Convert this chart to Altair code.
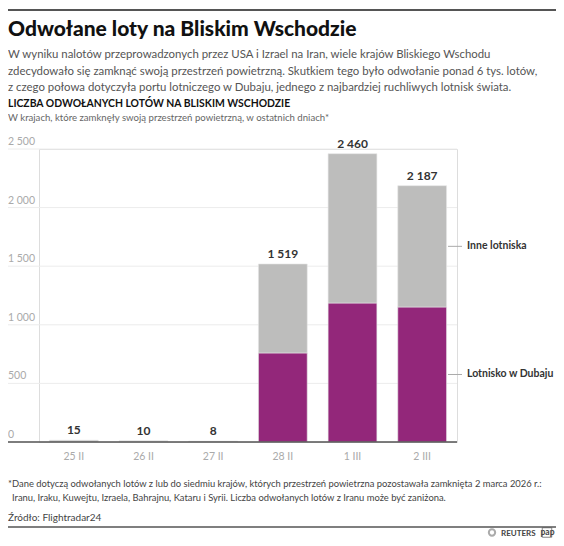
import altair as alt
import pandas as pd

# ---- data ----
dates = ["25 II", "26 II", "27 II", "28 II", "1 III", "2 III"]
dubai = [0, 4, 3, 760, 1186, 1152]
others = [15, 6, 5, 759, 1274, 1035]
totals = [15, 10, 8, 1519, 2460, 2187]
series = ["Lotnisko w Dubaju", "Inne lotniska"]
y_ticks = [0, 500, 1000, 1500, 2000, 2500]

title = "Odwołane loty na Bliskim Wschodzie"
intro = [
    "W wyniku nalotów przeprowadzonych przez USA i Izrael na Iran, wiele krajów Bliskiego Wschodu",
    "zdecydowało się zamknąć swoją przestrzeń powietrzną. Skutkiem tego było odwołanie ponad 6 tys. lotów,",
    "z czego połowa dotyczyła portu lotniczego w Dubaju, jednego z najbardziej ruchliwych lotnisk świata.",
]
chart_title = "LICZBA ODWOŁANYCH LOTÓW NA BLISKIM WSCHODZIE"
chart_sub = "W krajach, które zamknęły swoją przestrzeń powietrzną, w ostatnich dniach*"
foot = [
    "*Dane dotyczą odwołanych lotów z lub do siedmiu krajów, których przestrzeń powietrzna pozostawała zamknięta 2 marca 2026 r.:",
    "Iranu, Iraku, Kuwejtu, Izraela, Bahrajnu, Kataru i Syrii. Liczba odwołanych lotów z Iranu może być zaniżona.",
]
source = "Źródło: Flightradar24"

FONT = "Lato"
W, H = 418, 293
OX, OY = 39, 149  # page position of plot origin


def px(x):
    return x - OX


def py(y):
    return y - OY


rows = []
for d, a, b in zip(dates, dubai, others):
    rows.append({"date": d, "series": series[0], "value": a, "order": 0})
    rows.append({"date": d, "series": series[1], "value": b, "order": 1})
df = pd.DataFrame(rows)
tot = pd.DataFrame({"date": dates, "total": totals})
ticks = pd.DataFrame({"tick": y_ticks})
one = pd.DataFrame({"a": [0]})

yscale = alt.Scale(domain=[0, 2500], nice=False)
xscale = alt.Scale(domain=dates, paddingInner=0.3, paddingOuter=0.15)

grid = alt.Chart(ticks).mark_rule(color="#ececec", strokeWidth=1).encode(
    y=alt.Y("tick:Q", scale=yscale, axis=None),
    x=alt.value(px(8)), x2=alt.value(W),
)
ylabels = alt.Chart(ticks).mark_text(
    align="left", baseline="alphabetic", dy=-4, font=FONT, fontSize=10.5, color="#aaaaaa"
).encode(
    y=alt.Y("tick:Q", scale=yscale, axis=None),
    x=alt.value(px(8)),
    text=alt.Text("tick:Q", format=","),
)

bars = alt.Chart(df).mark_bar(stroke="#e6e6e6", strokeWidth=0.6).encode(
    x=alt.X("date:N", sort=dates, scale=xscale,
            axis=alt.Axis(title=None, domain=False, ticks=False, labelAngle=0,
                          labelColor="#aaaaaa", labelFontSize=10.5, labelPadding=9,
                          labelFont=FONT)),
    y=alt.Y("value:Q", stack="zero", scale=yscale, axis=None),
    color=alt.Color("series:N", scale=alt.Scale(domain=series, range=["#93277a", "#bdbdbc"]), legend=None),
    order=alt.Order("order:Q"),
)

baseline = alt.Chart(pd.DataFrame({"tick": [0]})).mark_rule(color="#555555", strokeWidth=1.5).encode(
    y=alt.Y("tick:Q", scale=yscale, axis=None),
    x=alt.value(px(8)), x2=alt.value(W),
)

totlabels = alt.Chart(tot).mark_text(
    dy=-6, baseline="alphabetic", font=FONT, fontSize=12, fontWeight="bold", color="#333333"
).encode(
    x=alt.X("date:N", sort=dates, scale=xscale),
    y=alt.Y("total:Q", scale=yscale, axis=None),
    text=alt.Text("total:Q", format=","),
)

last = alt.Chart(df).transform_filter(alt.datum.date == dates[-1]).transform_stack(
    stack="value", groupby=["date"], as_=["v0", "v1"], sort=[alt.SortField("order")]
).transform_calculate(mid="(datum.v0 + datum.v1) / 2")

leader = last.mark_rule(color="#aaaaaa", strokeWidth=1).encode(
    y=alt.Y("mid:Q", scale=yscale, axis=None),
    x=alt.value(px(448)), x2=alt.value(px(462)),
)
serlabels = last.mark_text(
    align="left", baseline="middle", font=FONT, fontSize=10.5, fontWeight="bold", color="#333333"
).encode(
    y=alt.Y("mid:Q", scale=yscale, axis=None),
    x=alt.value(px(467)),
    text="series:N",
)


def txt(s, x, y, size, color, weight="normal"):
    return alt.Chart(pd.DataFrame({"t": [s]})).mark_text(
        align="left", baseline="alphabetic", font=FONT, fontSize=size,
        fontWeight=weight, color=color
    ).encode(text="t:N", x=alt.value(px(x)), y=alt.value(py(y)))


def hrule(y, x1, x2, color, w):
    return alt.Chart(one).mark_rule(color=color, strokeWidth=w).encode(
        y=alt.value(py(y)), x=alt.value(px(x1)), x2=alt.value(px(x2))
    )


texts = [
    hrule(10, 8, 556, "#555555", 2),
    txt(title, 8, 36, 21, "#111111", 900),
    txt(intro[0], 8, 58, 11.4, "#555555"),
    txt(intro[1], 8, 75, 11.4, "#555555"),
    txt(intro[2], 8, 91, 11.4, "#555555"),
    txt(chart_title, 8, 107, 10.4, "#111111", "bold"),
    txt(chart_sub, 8, 121, 9.6, "#666666"),
    txt(foot[0], 8, 487, 9.4, "#444444"),
    txt(foot[1], 12, 501, 9.4, "#444444"),
    txt(source, 8, 521, 10, "#444444"),
    hrule(527, 8, 556, "#555555", 1.5),
    txt("REUTERS", 501, 535.5, 8, "#444444", "bold"),
    txt("pap", 540.5, 534.5, 8.5, "#444444", "bold"),
]

logo_ring = alt.Chart(one).mark_point(shape="circle", size=40, strokeWidth=2, color="#888888").encode(
    x=alt.value(px(492)), y=alt.value(py(532.5))
)
pap_box = alt.Chart(one).mark_point(shape="square", size=90, strokeWidth=1, color="#555555").encode(
    x=alt.value(px(547)), y=alt.value(py(532.5))
)

chart = alt.layer(
    grid, ylabels, bars, baseline, totlabels, leader, serlabels, logo_ring, pap_box, *texts
).properties(
    width=W, height=H,
    autosize=alt.AutoSizeParams(type="none"),
    padding={"left": 31, "top": 141, "right": 99, "bottom": 96},
).configure_view(stroke=None).configure(
    locale={"number": {"decimal": ",", "thousands": " ", "grouping": [3], "currency": ["", " zł"]}}
)

chart.save("out.html", embed_options={"renderer": "svg", "actions": False})
